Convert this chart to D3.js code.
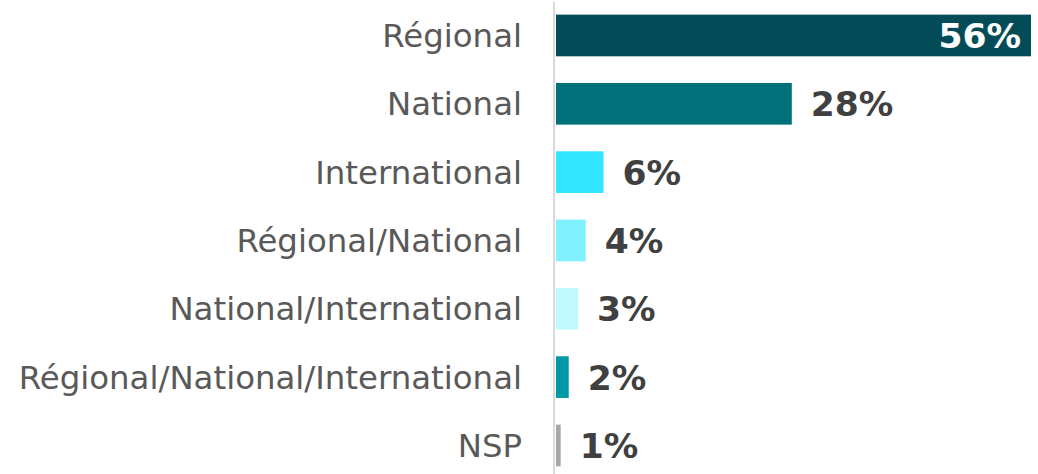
<!DOCTYPE html>
<html>
<head>
<meta charset="utf-8">
<script src="https://cdn.jsdelivr.net/npm/d3@7"></script>
<style>
  html, body { margin: 0; padding: 0; background: #fff; }
  svg { display: block; }
</style>
</head>
<body>
<svg id="chart" width="1038" height="474"></svg>
<script>
const categories = ["Régional", "National", "International", "Régional/National", "National/International", "Régional/National/International", "NSP"];
const values = [56, 27.8, 5.6, 3.5, 2.6, 1.5, 0.55];
const valueLabels = ["56%", "28%", "6%", "4%", "3%", "2%", "1%"];
const colors = ["#034c57", "#00707b", "#33e6ff", "#80f1ff", "#bff8ff", "#0097a7", "#a6a6a6"];

const W = 1038, H = 474;
const svg = d3.select("#chart");

const x = d3.scaleLinear().domain([0, 56]).range([556, 1031]);
const y = d3.scaleBand().domain(categories).range([1.3, 479.6]).paddingInner(0.39).paddingOuter(0.195);

// axis line
svg.append("line")
  .attr("x1", 554).attr("x2", 554)
  .attr("y1", 2).attr("y2", H)
  .attr("stroke", "#d9d9d9").attr("stroke-width", 2);

// category labels via axis
const yAxis = d3.axisLeft(y).tickSize(0).tickPadding(0);
const ag = svg.append("g").attr("transform", "translate(522,0)").call(yAxis);
ag.select(".domain").remove();
ag.selectAll("text")
  .attr("font-family", "Verdana, 'DejaVu Sans', sans-serif")
  .attr("font-size", 32.4)
  .attr("fill", "#595959")
  .attr("dy", "0.36em");

const data = categories.map((c, i) => ({c, v: values[i], l: valueLabels[i], col: colors[i], i}));

svg.append("g").selectAll("rect").data(data).join("rect")
  .attr("x", x(0))
  .attr("y", d => y(d.c))
  .attr("width", d => x(d.v) - x(0))
  .attr("height", y.bandwidth())
  .attr("fill", d => d.col);

svg.append("g").selectAll("text").data(data).join("text")
  .attr("x", d => d.i === 0 ? x(d.v) - 10 : x(d.v) + 19)
  .attr("y", d => y(d.c) + y.bandwidth() / 2)
  .attr("dy", "0.36em")
  .attr("text-anchor", d => d.i === 0 ? "end" : "start")
  .attr("font-family", "'DejaVu Sans', Verdana, sans-serif")
  .attr("font-weight", "bold")
  .attr("font-size", 34.5)
  .attr("fill", d => d.i === 0 ? "#ffffff" : "#404040")
  .text(d => d.l);
</script>
</body>
</html>
